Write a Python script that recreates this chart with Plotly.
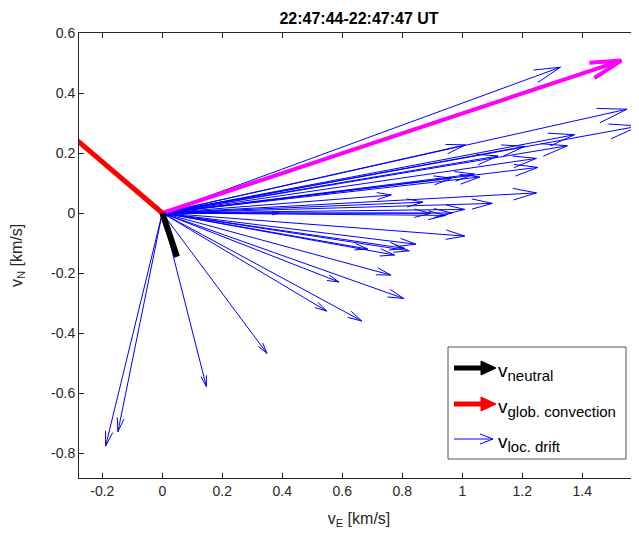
import plotly.graph_objects as go

# ---- data (km/s) ----
loc_drift_E = [1.327, 1.549, 1.590, 1.374, 1.350, 1.010, 1.208, 1.119, 1.247, 1.252,
               1.058, 1.040, 0.965, 1.247, 0.763, 1.100, 0.869, 1.008, 0.965, 0.945,
               0.895, 0.390, 1.008, 0.845, 0.823, 0.808, 0.774, 0.685, 0.762, 0.589,
               0.805, 0.548, 0.665, 0.349, 0.147, -0.148, -0.189]
loc_drift_N = [0.486, 0.346, 0.290, 0.261, 0.224, 0.227, 0.222, 0.190, 0.182, 0.152,
               0.120, 0.130, 0.116, 0.067, 0.060, 0.032, 0.036, 0.012, 0.000, -0.008,
               -0.001, 0.000, -0.077, -0.104, -0.126, -0.118, -0.140, -0.120, -0.207, -0.230,
               -0.285, -0.327, -0.360, -0.468, -0.579, -0.729, -0.777]
neutral_E, neutral_N = [0.049], [-0.146]
glob_E, glob_N = [-0.320], [0.273]
mean_E, mean_N = [1.530], [0.508]

x_ticks = [-0.2, 0, 0.2, 0.4, 0.6, 0.8, 1.0, 1.2, 1.4]
x_ticktext = ["-0.2", "0", "0.2", "0.4", "0.6", "0.8", "1", "1.2", "1.4"]
y_ticks = [0.6, 0.4, 0.2, 0, -0.2, -0.4, -0.6, -0.8]
y_ticktext = ["0.6", "0.4", "0.2", "0", "-0.2", "-0.4", "-0.6", "-0.8"]

title = "22:47:44-22:47:47 UT"
FONT = "Liberation Sans, Arial, Helvetica, sans-serif"
AX = "#262626"


def quiver(us, vs, head=0.062, spread=0.25):
    xs, ys = [], []
    for u, v in zip(us, vs):
        xs += [0, u, None]
        ys += [0, v, None]
        p1 = (u - head * u + head * spread * v, v - head * v - head * spread * u)
        p2 = (u - head * u - head * spread * v, v - head * v + head * spread * u)
        xs += [p1[0], u, p2[0], None]
        ys += [p1[1], v, p2[1], None]
    return xs, ys


fig = go.Figure()
bx, by = quiver(loc_drift_E, loc_drift_N)
fig.add_trace(go.Scatter(x=bx, y=by, mode="lines", line=dict(color="#0000FF", width=1),
                         hoverinfo="skip", showlegend=False))
mx, my = quiver(mean_E, mean_N, head=0.064, spread=0.26)
fig.add_trace(go.Scatter(x=mx, y=my, mode="lines", line=dict(color="#FF00FF", width=4),
                         hoverinfo="skip", showlegend=False))
rx, ry = quiver(glob_E, glob_N)
fig.add_trace(go.Scatter(x=rx, y=ry, mode="lines", line=dict(color="#FF0000", width=5),
                         hoverinfo="skip", showlegend=False))
kx, ky = quiver(neutral_E, neutral_N, head=0.0, spread=0.0)
fig.add_trace(go.Scatter(x=kx, y=ky, mode="lines", line=dict(color="#000000", width=6),
                         hoverinfo="skip", showlegend=False))

# page offset (body margin) and plot-area geometry in page pixels
OFF = 8
PL, PT, W, H = 79, 33, 560, 445
FW, FH = 639 - OFF, 537 - 2 * OFF
L, T = PL - OFF, PT - OFF


def px(xp):
    return (xp - PL) / W


def py(yp):
    return (PT + H - yp) / H


shapes = []
shapes.append(dict(type="rect", xref="paper", yref="paper", x0=px(448), x1=px(626),
                   y0=py(459), y1=py(347), line=dict(color=AX, width=0.8), fillcolor="white"))
icon_y = [368, 404, 439]
icon_col = ["#000000", "#FF0000", "#0000FF"]
for yy, col in zip(icon_y[:2], icon_col[:2]):
    shapes.append(dict(type="line", xref="paper", yref="paper", x0=px(454), x1=px(484),
                       y0=py(yy), y1=py(yy), line=dict(color=col, width=5)))
    shapes.append(dict(type="path", xref="paper", yref="paper",
                       path=f"M {px(481)},{py(yy-7)} L {px(496)},{py(yy)} L {px(481)},{py(yy+7)} Z",
                       fillcolor=col, line=dict(color=col, width=1)))
yy = icon_y[2]
shapes.append(dict(type="line", xref="paper", yref="paper", x0=px(454), x1=px(493),
                   y0=py(yy), y1=py(yy), line=dict(color="#0000FF", width=1)))
shapes.append(dict(type="path", xref="paper", yref="paper",
                   path=f"M {px(480)},{py(yy-5)} L {px(493)},{py(yy)} L {px(480)},{py(yy+5)}",
                   line=dict(color="#0000FF", width=1)))

labels = ["neutral", "glob. convection", "loc. drift"]
annotations = []
for yy, lab in zip(icon_y, labels):
    annotations.append(dict(xref="paper", yref="paper", x=px(496), y=py(yy + 4),
                            xanchor="left", yanchor="middle", showarrow=False,
                            text=f'v<sub><span style="font-size:15px">{lab}</span></sub>',
                            font=dict(family=FONT, size=19, color="#000000")))

fig.update_layout(
    width=FW, height=FH,
    margin=dict(l=L, r=FW - L - W, t=T, b=FH - T - H, pad=0),
    paper_bgcolor="white", plot_bgcolor="white",
    font=dict(family=FONT, size=14, color=AX),
    title=dict(text=f"<b>{title}</b>", x=(PL - OFF + W / 2) / FW, xanchor="center",
               y=1 - (18 - OFF) / FH, yanchor="middle", font=dict(size=16, color="#000000")),
    xaxis=dict(range=[-0.2777, -0.2777 + W / 300], tickvals=x_ticks, ticktext=x_ticktext,
               ticks="inside", ticklen=5, tickcolor=AX, showline=True, linecolor=AX,
               linewidth=1, mirror="ticks", showgrid=False, zeroline=False,
               tickfont=dict(size=14, color=AX),
               title=dict(text="v<sub>E</sub> [km/s]", font=dict(size=16, color=AX), standoff=16)),
    yaxis=dict(range=[0.6 - H / 300, 0.6], tickvals=y_ticks, ticktext=y_ticktext,
               ticks="inside", ticklen=5, tickcolor=AX, showline=True, linecolor=AX,
               linewidth=1, mirror="ticks", showgrid=False, zeroline=False,
               tickfont=dict(size=14, color=AX),
               title=dict(text="v<sub>N</sub> [km/s]", font=dict(size=16, color=AX), standoff=24)),
    shapes=shapes,
    annotations=annotations,
)

fig.write_html("out.html")
